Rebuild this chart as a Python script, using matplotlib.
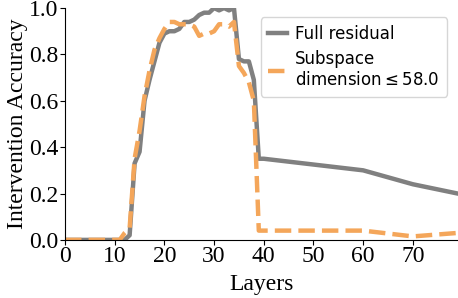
import matplotlib
matplotlib.use("Agg")
import matplotlib.pyplot as plt

# Daten
layers = list(range(0, 40)) + [40, 50, 60, 70, 79]

full_residual = [0, 0, 0, 0, 0, 0, 0, 0, 0, 0,
                 0, 0, 0, 0.02, 0.33, 0.38, 0.60, 0.69, 0.77, 0.85,
                 0.89, 0.90, 0.90, 0.91, 0.94, 0.94, 0.95, 0.97, 0.98, 0.98,
                 1.0, 0.99, 1.0, 0.99, 1.0, 0.78, 0.77, 0.77, 0.69, 0.35,
                 0.35, 0.325, 0.30, 0.24, 0.20]

subspace = [0, 0, 0, 0, 0, 0, 0, 0, 0, 0,
            0, 0, 0.03, 0.05, 0.35, 0.47, 0.62, 0.73, 0.82, 0.87,
            0.91, 0.94, 0.94, 0.93, 0.93, 0.93, 0.92, 0.88, 0.89, 0.89,
            0.90, 0.93, 0.93, 0.92, 0.94, 0.75, 0.72, 0.68, 0.60, 0.04,
            0.04, 0.04, 0.04, 0.015, 0.03]

x_ticks = [0, 10, 20, 30, 40, 50, 60, 70]
y_ticks = [0.0, 0.2, 0.4, 0.6, 0.8, 1.0]

# Plot erstellen
fig, ax = plt.subplots(figsize=(4.58, 2.98), dpi=100)
fig.subplots_adjust(left=0.142, right=0.999, bottom=0.195, top=0.973)

ax.plot(layers, full_residual, color="#808080", lw=3.2, label="Full residual")
ax.plot(layers, subspace, color="#f4a65a", lw=3.2, ls="--",
        label="Subspace\ndimension$\\leq$58.0")

ax.set_xlim(0, 79)
ax.set_ylim(0, 1.0)
ax.set_xticks(x_ticks)
ax.set_yticks(y_ticks)
ax.set_xticklabels([str(t) for t in x_ticks], family="Liberation Serif", fontsize=17)
ax.set_yticklabels([f"{t:.1f}" for t in y_ticks], family="Liberation Serif", fontsize=17)
ax.set_xlabel("Layers", family="Liberation Serif", fontsize=17, labelpad=5)
ax.set_ylabel("Intervention Accuracy", family="Liberation Serif", fontsize=17, labelpad=1)
ax.tick_params(pad=1)

ax.spines["top"].set_visible(False)
ax.spines["right"].set_visible(False)

ax.legend(loc="upper right", fontsize=12, handlelength=1.1, handletextpad=0.5,
          borderpad=0.45, borderaxespad=0.0, labelspacing=0.45,
          bbox_to_anchor=(0.973, 0.96))

# Grafik speichern
fig.savefig("out.png", dpi=100)
